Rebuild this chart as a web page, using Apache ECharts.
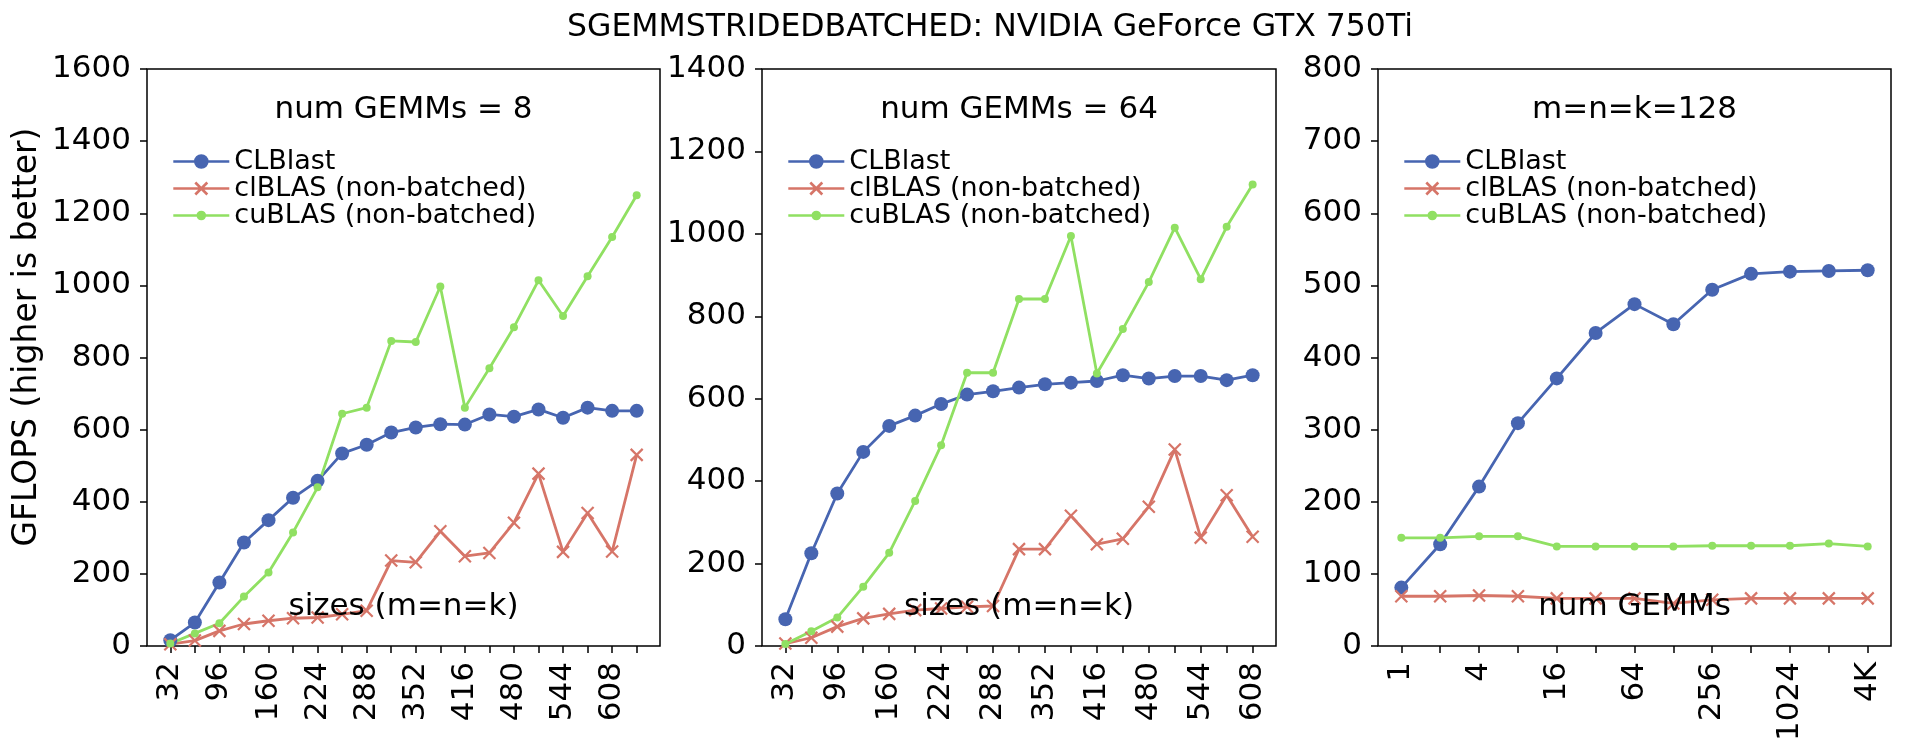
<!DOCTYPE html>
<html><head><meta charset="utf-8">
<script src="https://cdn.jsdelivr.net/npm/echarts@6/dist/echarts.min.js"></script>
<style>html,body{margin:0;padding:0;background:#fff}#c{width:1914px;height:756px}</style>
</head><body><div id="c"></div>
<script>
// ---------- data ----------
const seriesNames = ['CLBlast', 'clBLAS (non-batched)', 'cuBLAS (non-batched)'];
const mainTitle = 'SGEMMSTRIDEDBATCHED: NVIDIA GeForce GTX 750Ti';
const panelTitles = ['num GEMMs = 8', 'num GEMMs = 64', 'm=n=k=128'];
const xAxisTitles = ['sizes (m=n=k)', 'sizes (m=n=k)', 'num GEMMs'];
const yAxisTitle = 'GFLOPS (higher is better)';

// panel 1: num GEMMs = 8
const sizes1 = [32, 64, 96, 128, 160, 192, 224, 256, 288, 320, 352, 384, 416, 448, 480, 512, 544, 576, 608, 640];
const tickLabels1 = [32, 96, 160, 224, 288, 352, 416, 480, 544, 608];
const clblast1 = [16, 65, 176, 287, 349, 411, 458, 534, 558, 592, 606, 615, 614, 642, 636, 656, 633, 661, 652, 652];
const clblas1 = [5, 15, 42, 61, 70, 77, 79, 88, 98, 237, 232, 318, 249, 258, 342, 478, 261, 369, 262, 530];
const cublas1 = [7, 35, 63, 137, 204, 315, 440, 644, 661, 846, 843, 997, 661, 770, 884, 1014, 915, 1025, 1134, 1250];

// panel 2: num GEMMs = 64
const sizes2 = [32, 64, 96, 128, 160, 192, 224, 256, 288, 320, 352, 384, 416, 448, 480, 512, 544, 576, 608];
const tickLabels2 = [32, 96, 160, 224, 288, 352, 416, 480, 544, 608];
const clblast2 = [65, 225, 370, 471, 534, 559, 587, 610, 618, 627, 635, 639, 643, 657, 649, 655, 655, 645, 657];
const clblas2 = [6, 20, 47, 67, 78, 87, 91, 95, 97, 235, 235, 316, 247, 260, 338, 477, 263, 366, 265];
const cublas2 = [5, 36, 69, 144, 226, 352, 487, 663, 663, 842, 842, 995, 661, 769, 883, 1015, 890, 1017, 1120];

// panel 3: m=n=k=128
const numGemms3 = ['1', '2', '4', '8', '16', '32', '64', '128', '256', '512', '1024', '2048', '4K'];
const tickLabels3 = ['1', '4', '16', '64', '256', '1024', '4K'];
const clblast3 = [81, 141, 221, 309, 371, 434, 474, 446, 494, 516, 519, 520, 521];
const clblas3 = [69, 69, 70, 69, 66, 66, 66, 59, 64, 66, 66, 66, 66];
const cublas3 = [150, 150, 152, 152, 138, 138, 138, 138, 139, 139, 139, 142, 138];

const yMax = [1600, 1400, 800];
const yStep = [200, 200, 100];

// ---------- style ----------
const BLUE = '#4765b1', RED = '#d67568', GREEN = '#90e062';
const FONT = 'DejaVu Sans';
const grids = [
  {left: 147, top: 69, width: 513, height: 577},
  {left: 762, top: 69, width: 514, height: 577},
  {left: 1378, top: 69, width: 513, height: 577}
];
const XSYM = 'path://M0,0 L10,10 M10,0 L0,10';

function pairs(xs, ys) { return xs.map((x, i) => [x, ys[i]]); }
function idxPairs(ys) { return ys.map((y, i) => [i, y]); }

const xDomains = [
  {min: 1.6, max: 670.4},
  {min: 3.2, max: 636.8},
  {min: -0.6, max: 12.6}
];
const tickVals = [sizes1, sizes2, numGemms3.map((_, i) => i)];
const labelVals = [tickLabels1, tickLabels2, tickLabels3.map(l => numGemms3.indexOf(l))];

const xAxes = [0, 1, 2].map(g => ({
  gridIndex: g, type: 'value', min: xDomains[g].min, max: xDomains[g].max,
  axisLine: {show: false, onZero: false}, splitLine: {show: false},
  axisTick: {show: true, length: 7, lineStyle: {color: '#000', width: 1.5}, customValues: tickVals[g]},
  axisLabel: {
    rotate: 90, fontSize: 31, color: '#000', fontFamily: FONT, margin: 16,
    customValues: labelVals[g],
    formatter: g === 2 ? (v => numGemms3[Math.round(v)]) : (v => String(v))
  }
}));
const yAxes = [0, 1, 2].map(g => ({
  gridIndex: g, type: 'value', min: 0, max: yMax[g], interval: yStep[g],
  axisLine: {show: false, onZero: false}, splitLine: {show: false},
  axisTick: {show: true, length: 7, lineStyle: {color: '#000', width: 1.5}},
  axisLabel: {fontSize: 31, color: '#000', fontFamily: FONT, margin: 16, formatter: v => String(v)}
}));

function lineSeries(g, name, data, color, kind) {
  const s = {
    type: 'line', name, xAxisIndex: g, yAxisIndex: g, data,
    lineStyle: {color, width: 2.8}, itemStyle: {color},
    emphasis: {disabled: true}, silent: true, z: 3
  };
  if (kind === 'o') { s.symbol = 'circle'; s.symbolSize = 14; }
  else if (kind === '.') { s.symbol = 'circle'; s.symbolSize = 8; }
  else { s.symbol = XSYM; s.symbolSize = 12; s.itemStyle = {color, borderColor: color, borderWidth: 2.2}; }
  return s;
}
const panelData = [
  [pairs(sizes1, clblast1), pairs(sizes1, clblas1), pairs(sizes1, cublas1)],
  [pairs(sizes2, clblast2), pairs(sizes2, clblas2), pairs(sizes2, cublas2)],
  [idxPairs(clblast3), idxPairs(clblas3), idxPairs(cublas3)]
];
const series = [];
[0, 1, 2].forEach(g => {
  series.push(lineSeries(g, seriesNames[0], panelData[g][0], BLUE, 'o'));
  series.push(lineSeries(g, seriesNames[1], panelData[g][1], RED, 'x'));
  series.push(lineSeries(g, seriesNames[2], panelData[g][2], GREEN, '.'));
});

const legendIcons = [
  'path://M0,7 L22,7 M34,7 L56,7 M22,7 A6,6 0 1 0 34,7 A6,6 0 1 0 22,7 Z',
  'path://M0,7 L56,7 M22,1 L34,13 M34,1 L22,13',
  'path://M0,7 L24.5,7 M31.5,7 L56,7 M24.5,7 A3.5,3.5 0 1 0 31.5,7 A3.5,3.5 0 1 0 24.5,7 Z'
];
const legendColors = [BLUE, RED, GREEN];
const legends = [0, 1, 2].map(g => ({
  left: grids[g].left + 20, top: 143, orient: 'vertical',
  itemWidth: 56, itemHeight: 14, itemGap: 0, selectedMode: false,
  textStyle: {fontSize: 27, color: '#000', fontFamily: FONT, lineHeight: 26.5},
  data: seriesNames.map((n, i) => ({
    name: n, icon: legendIcons[i],
    itemStyle: {color: i === 1 ? 'rgba(0,0,0,0)' : legendColors[i], borderColor: legendColors[i], borderWidth: 2.6}
  }))
}));

const graphics = [
  {type: 'text', x: 990, y: 28, style: {text: mainTitle, fontSize: 31.5, fontFamily: FONT, fill: '#000', align: 'center', verticalAlign: 'middle'}},
  {type: 'text', x: 27, y: 337, rotation: Math.PI / 2, style: {text: yAxisTitle, fontSize: 33, fontFamily: FONT, fill: '#000', align: 'center', verticalAlign: 'middle'}}
];
[0, 1, 2].forEach(g => {
  const cx = grids[g].left + grids[g].width / 2;
  graphics.push({type: 'text', x: cx, y: 110, style: {text: panelTitles[g], fontSize: 31, fontFamily: FONT, fill: '#000', align: 'center', verticalAlign: 'middle'}});
  graphics.push({type: 'text', x: cx, y: 607, z: 10, style: {text: xAxisTitles[g], fontSize: 31, fontFamily: FONT, fill: '#000', align: 'center', verticalAlign: 'middle'}});
});

const chart = echarts.init(document.getElementById('c'), null, {renderer: 'canvas'});
chart.setOption({
  animation: false,
  backgroundColor: '#fff',
  textStyle: {fontFamily: FONT},
  grid: grids.map(g => Object.assign({show: true, borderColor: '#000', borderWidth: 1.5, backgroundColor: 'transparent'}, g)),
  xAxis: xAxes, yAxis: yAxes,
  legend: legends,
  series,
  graphic: graphics
});
</script></body></html>
